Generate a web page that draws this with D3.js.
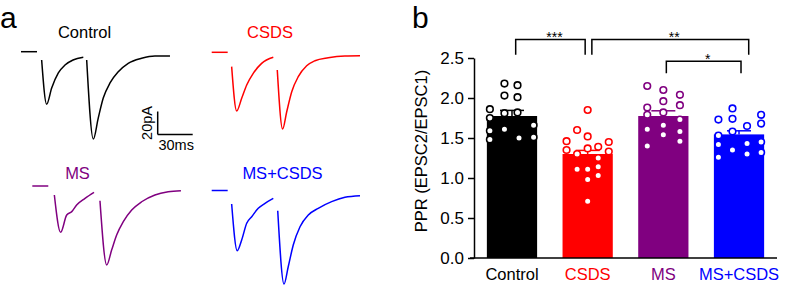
<!DOCTYPE html>
<html>
<head>
<meta charset="utf-8">
<script src="https://cdn.jsdelivr.net/npm/d3@7"></script>
<style>
  body { margin: 0; background: #fff; }
  svg { display: block; font-family: "Liberation Sans", Arial, Helvetica, sans-serif; }
</style>
</head>
<body>
<div id="chart"></div>
<script>
// groups and colours
var groups = ['Control', 'CSDS', 'MS', 'MS+CSDS'];
var colors = ['#000000', '#ff0000', '#800080', '#0000ff'];

// panel b: bar means, SEM, individual cells (PPR)
var means = [1.775, 1.30, 1.775, 1.545];
var sems  = [0.07, 0.045, 0.065, 0.045];
var cellValues = [
  [2.18, 2.16, 2.03, 2.01, 1.86, 1.81, 1.82, 1.75, 1.66, 1.59, 1.61, 1.48, 1.50, 1.51],
  [1.85, 1.60, 1.52, 1.46, 1.45, 1.39, 1.37, 1.35, 1.33, 1.30, 1.25, 1.14, 1.11, 1.11, 1.03, 0.98, 0.71],
  [2.15, 2.10, 2.04, 1.96, 1.91, 1.88, 1.82, 1.79, 1.73, 1.66, 1.61, 1.58, 1.54, 1.46, 1.40],
  [1.87, 1.79, 1.73, 1.74, 1.68, 1.65, 1.58, 1.53, 1.45, 1.43, 1.42, 1.35, 1.30, 1.32, 1.26]
];
// horizontal jitter of each dot, as a fraction of bar width
var cellJitter = [
  [-0.15, 0.11, -0.15, 0.11, -0.44, -0.15, 0.11, -0.44, 0.43, -0.44, -0.15, -0.44, 0.14, 0.43],
  [0, -0.21, 0, -0.42, 0.42, 0.21, 0, -0.42, 0.42, -0.21, 0.21, 0.21, -0.21, 0, 0.21, 0, 0],
  [-0.32, 0, 0.33, 0, 0.33, -0.32, 0, -0.32, 0.33, 0, -0.32, 0.33, 0, 0.33, -0.32],
  [-0.13, 0.44, -0.41, -0.13, 0.44, 0.16, -0.13, -0.41, 0.44, 0.16, -0.41, -0.13, 0.16, 0.44, -0.41]
];
var yTicks = [0, 0.5, 1.0, 1.5, 2.0, 2.5];
var comparisons = [
  { a: 0, b: 1, label: '***', level: 2.73, tip: 2.54 },
  { a: 1, b: 3, label: '**',  level: 2.73, tip: 2.54 },
  { a: 2, b: 3, label: '*',   level: 2.46, tip: 2.31 }
];

// panel a: example EPSC traces, [time ms, current pA], segments split at stimulus artefacts
var traceControl = [
  [[0, 0], [13.7, 0]],
  [[17.7, -7.2], [22, -45.7], [26.3, -31.6], [32, -18.5], [37.7, -11.6], [44.6, -7.2], [53.4, -4.9]],
  [[56.3, -7.2], [62, -75.9], [66.2, -57.7], [70.5, -40.3], [76.3, -27.2], [83.4, -17.4], [91.9, -10.1], [103.4, -5.7], [114.8, -3.7], [127.7, -3.7]]
];
var traceCSDS = [
  [[0, 0], [13.7, 0]],
  [[17.1, -12.5], [21.4, -51], [25.7, -40], [30, -28.4], [35.6, -18.3], [42.8, -9.6], [52.8, -4.3]],
  [[56.2, -15.4], [60.8, -66.7], [64.3, -51.7], [68.6, -34.3], [74.2, -21.2], [81.4, -11.7], [88.5, -7.3], [99.9, -4.7], [114.2, -3.2], [127.1, -3]]
];
var traceMS = [
  [[0, 0], [13.7, 0]],
  [[18.9, -7.8], [24.3, -40.3], [29.5, -25.2], [33.8, -22.3], [38, -16.5], [45.2, -10.7], [52.9, -5.5]],
  [[58, -12.8], [63.8, -68.7], [68, -55.7], [72.3, -42.6], [78, -31], [85.2, -20.9], [93.7, -13.7], [105.1, -7.8], [116.5, -5], [127.4, -4.1]]
];
var traceMSCSDS = [
  [[0, 0], [13.7, 0]],
  [[17.1, -11.7], [21.9, -52.3], [25.7, -43], [30, -28.5], [34.3, -22.8], [39.9, -15.5], [45.7, -11.1], [52.8, -6.8]],
  [[56.6, -17.6], [62, -81.3], [65.6, -66.3], [69.9, -47.4], [75.7, -31.5], [82.8, -21.3], [91.3, -15.5], [102.8, -9.7], [114.2, -5.9], [127.1, -4.5]]
];
var traces = [traceControl, traceCSDS, traceMS, traceMSCSDS];
var scaleBarMs = 30, scaleBarPa = 20;

var width = 785, height = 286;

var svg = d3.select('#chart').append('svg')
    .attr('width', width)
    .attr('height', height)
    .style('background', '#fff');

// ---------- panel a ----------
svg.append('text').attr('x', 0).attr('y', 27.5)
    .style('font-size', '30px').text('a');

var tScale = d3.scaleLinear().domain([0, 30]).range([0, 35]);
var iScale = d3.scaleLinear().domain([0, -20]).range([0, 23]);

var panelOrigins = [[21, 51.7], [211.7, 52.3], [32.3, 186], [211.7, 190.5]];
var titlePos = [[84.5, 38], [270, 38], [77.5, 179], [282.5, 179]];

var line = d3.line()
    .x(function(d) { return tScale(d[0]); })
    .y(function(d) { return iScale(d[1]); })
    .curve(d3.curveMonotoneX);

traces.forEach(function(tr, i) {
    var g = svg.append('g')
        .attr('transform', 'translate(' + panelOrigins[i][0] + ',' + panelOrigins[i][1] + ')');
    g.selectAll('path').data(tr)
      .enter().append('path')
        .attr('d', line)
        .attr('fill', 'none')
        .attr('stroke', colors[i])
        .attr('stroke-width', 1.5)
        .attr('stroke-linejoin', 'round');
    svg.append('text')
        .attr('x', titlePos[i][0]).attr('y', titlePos[i][1])
        .attr('text-anchor', 'middle')
        .style('font-size', '16.5px')
        .style('fill', colors[i])
        .text(groups[i]);
});

// scale bar
var sb = svg.append('g').attr('transform', 'translate(157.7,134.5)');
sb.append('line')
    .attr('x1', 0).attr('x2', 0)
    .attr('y1', 0).attr('y2', iScale(-scaleBarPa) * -1)
    .attr('stroke', '#000').attr('stroke-width', 1.5);
sb.append('line')
    .attr('x1', 0).attr('x2', tScale(scaleBarMs))
    .attr('y1', 0).attr('y2', 0)
    .attr('stroke', '#000').attr('stroke-width', 1.5);
sb.append('text')
    .attr('transform', 'translate(-6,' + (-iScale(-scaleBarPa) / 2) + ') rotate(-90)')
    .attr('text-anchor', 'middle')
    .style('font-size', '14.5px')
    .text(scaleBarPa + 'pA');
sb.append('text')
    .attr('x', tScale(scaleBarMs) / 2 + 1).attr('y', 15.5)
    .attr('text-anchor', 'middle')
    .style('font-size', '14.5px')
    .text(scaleBarMs + 'ms');

// ---------- panel b ----------
svg.append('text').attr('x', 412).attr('y', 27.5)
    .style('font-size', '30px').text('b');

var xScale = d3.scaleBand()
    .domain(groups)
    .range([474, 777])
    .paddingInner(0.336)
    .paddingOuter(0.17);

var yScale = d3.scaleLinear()
    .domain([0, 2.5])
    .range([258, 58]);

var bw = xScale.bandwidth();

svg.selectAll('rect.bar').data(groups)
  .enter().append('rect')
    .attr('class', 'bar')
    .attr('x', function(d) { return xScale(d); })
    .attr('width', bw)
    .attr('y', function(d, i) { return yScale(means[i]); })
    .attr('height', function(d, i) { return yScale(0) - yScale(means[i]); })
    .style('fill', function(d, i) { return colors[i]; });

// error bars (upper only)
var eb = svg.selectAll('g.err').data(groups)
  .enter().append('g').attr('class', 'err');
eb.append('line')
    .attr('x1', function(d) { return xScale(d) + bw / 2; })
    .attr('x2', function(d) { return xScale(d) + bw / 2; })
    .attr('y1', function(d, i) { return yScale(means[i]); })
    .attr('y2', function(d, i) { return yScale(means[i] + sems[i]); })
    .attr('stroke', function(d, i) { return colors[i]; })
    .attr('stroke-width', 1.5);
eb.append('line')
    .attr('x1', function(d) { return xScale(d) + bw / 2 - 12; })
    .attr('x2', function(d) { return xScale(d) + bw / 2 + 12; })
    .attr('y1', function(d, i) { return yScale(means[i] + sems[i]); })
    .attr('y2', function(d, i) { return yScale(means[i] + sems[i]); })
    .attr('stroke', function(d, i) { return colors[i]; })
    .attr('stroke-width', 1.5);

// individual cells
groups.forEach(function(gname, gi) {
    var pts = cellValues[gi].map(function(v, k) { return { v: v, j: cellJitter[gi][k] }; });
    svg.selectAll('circle.g' + gi).data(pts)
      .enter().append('circle')
        .attr('class', 'g' + gi)
        .attr('cx', function(d) { return xScale(gname) + bw / 2 + d.j * bw; })
        .attr('cy', function(d) { return yScale(d.v); })
        .attr('r', 3.3)
        .style('fill', '#fff')
        .style('stroke', colors[gi])
        .style('stroke-width', 1.6);
});

// axes
var yAxis = svg.append('g')
    .attr('transform', 'translate(474,0)')
    .call(d3.axisLeft(yScale).tickValues(yTicks).tickFormat(d3.format('.1f'))
        .tickSize(6).tickSizeOuter(0).tickPadding(4));
yAxis.selectAll('text').style('font-size', '17px').style('fill', '#000');

var xAxis = svg.append('g')
    .attr('transform', 'translate(0,258)')
    .call(d3.axisBottom(xScale).tickSize(0).tickSizeOuter(0).tickPadding(10));
xAxis.select('.domain').attr('d', 'M470,0H777');
xAxis.selectAll('text')
    .style('font-size', '16.5px')
    .style('fill', function(d, i) { return colors[i]; });

svg.selectAll('.domain, .tick line')
    .attr('stroke', '#000').attr('stroke-width', 1.5);

svg.append('text')
    .attr('transform', 'translate(427,151) rotate(-90)')
    .attr('text-anchor', 'middle')
    .style('font-size', '16.5px')
    .text('PPR (EPSC2/EPSC1)');

// significance brackets
var endShift = [[3.7, -2.5], [4.2, 9.7], [3, 2]];
comparisons.forEach(function(c, k) {
    var x1 = xScale(groups[c.a]) + bw / 2 + endShift[k][0];
    var x2 = xScale(groups[c.b]) + bw / 2 + endShift[k][1];
    var yl = yScale(c.level), yt = yScale(c.tip);
    svg.append('path')
        .attr('d', 'M' + x1 + ',' + yt + 'V' + yl + 'H' + x2 + 'V' + yt)
        .attr('fill', 'none')
        .attr('stroke', '#000')
        .attr('stroke-width', 1.5);
    svg.append('text')
        .attr('x', (x1 + x2) / 2 + 4)
        .attr('y', yl + 2.5)
        .attr('text-anchor', 'middle')
        .style('font-size', '14px')
        .text(c.label);
});
</script>
</body>
</html>
